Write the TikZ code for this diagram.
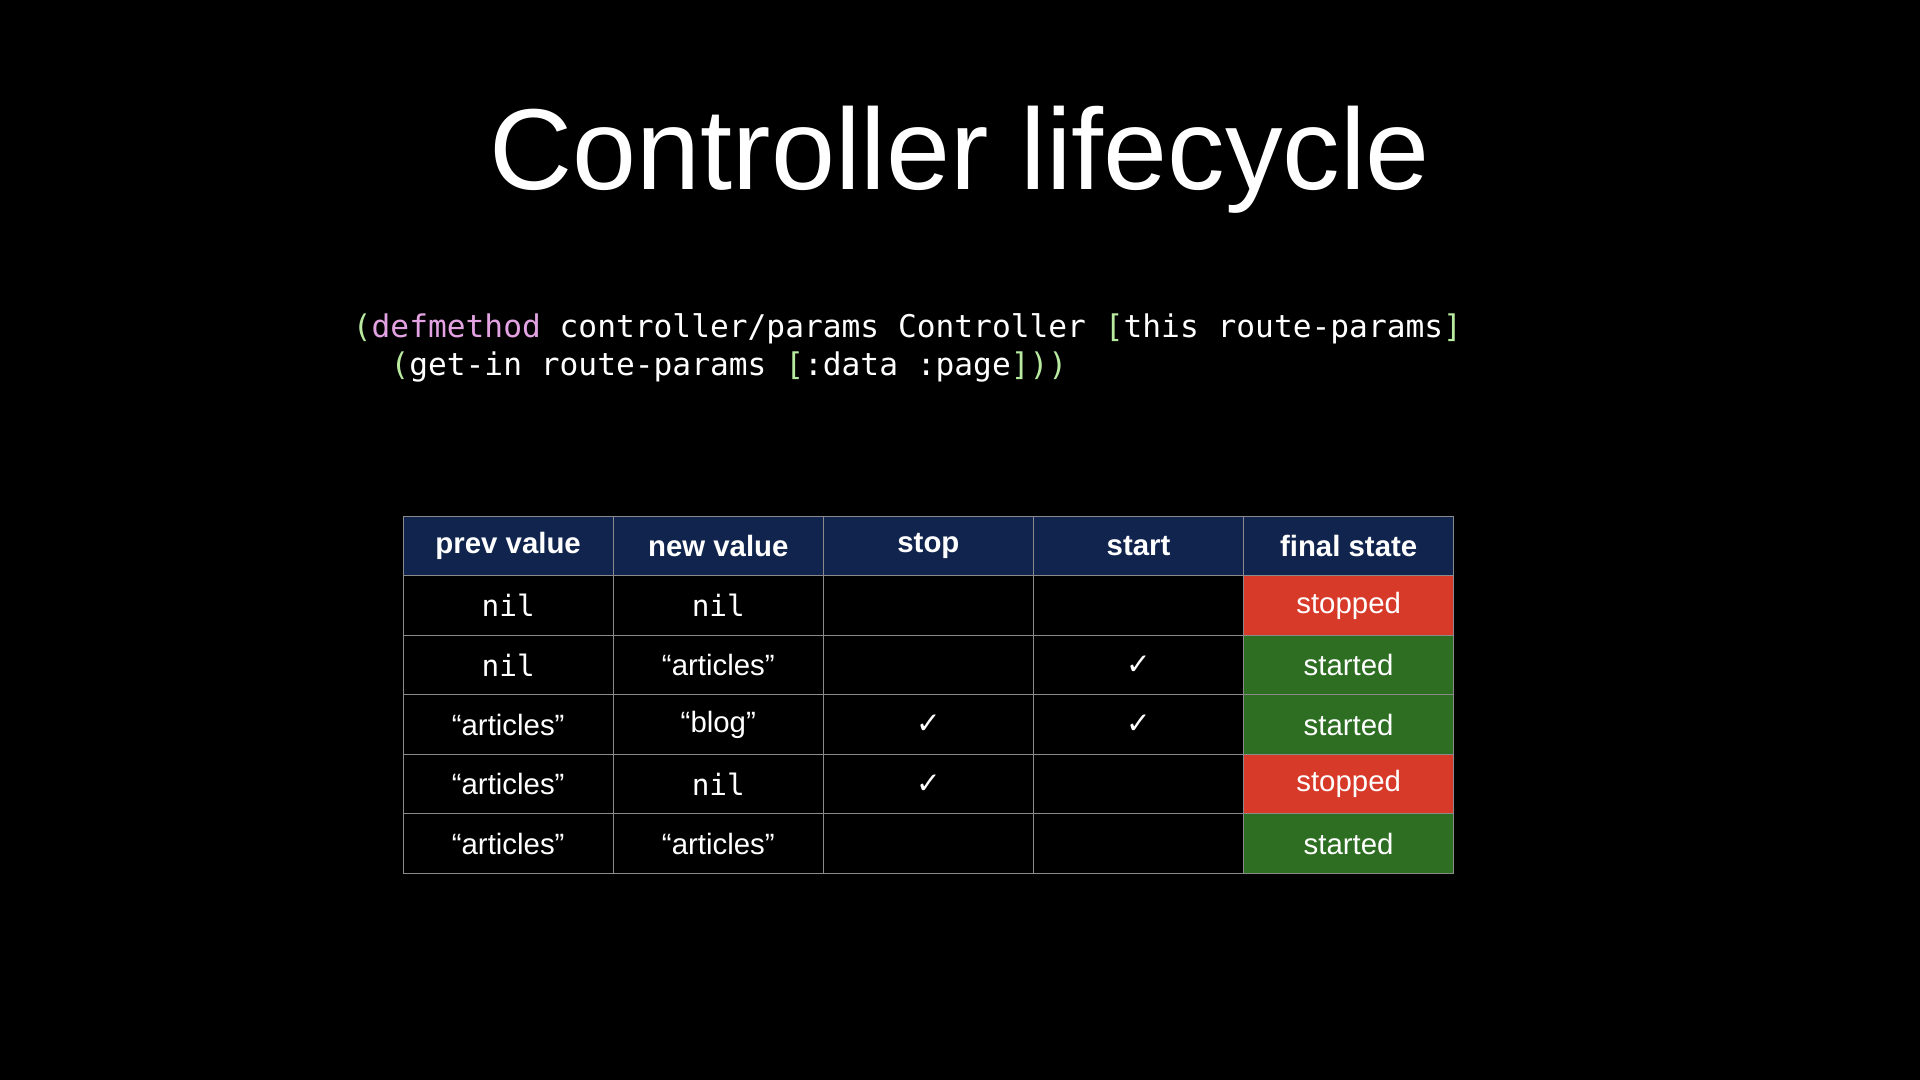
\documentclass[tikz,border=0pt]{standalone}
\usepackage{fontspec}
\setmainfont{Liberation Sans}
\newfontfamily\codefont{DejaVu Sans Mono}
\newfontfamily\symfont{DejaVu Sans}
\definecolor{hdr}{HTML}{10244D}
\definecolor{cred}{HTML}{D83A2A}
\definecolor{cgreen}{HTML}{2E6E22}
\definecolor{cgrid}{HTML}{8A8A8A}
\definecolor{cpink}{HTML}{E3A3E3}
\definecolor{cgr}{HTML}{B8EBA0}
\begin{document}
\begin{tikzpicture}[x=1pt,y=-1pt,
  cell/.style={minimum width=171.6pt,minimum height=48.6pt,draw=cgrid,line width=0.8pt,inner sep=0pt,text=white,font=\fontsize{24}{28}\selectfont},
  hcell/.style={cell,fill=hdr,font=\fontsize{24}{28}\selectfont\bfseries},
  code/.style={anchor=base west,inner sep=0pt,text=white,font=\codefont\fontsize{25.5}{30}\selectfont}]
\fill[black] (0,0) rectangle (1568,882);
\useasboundingbox (0,0) rectangle (1568,882);
\node[text=white,font=\fontsize{94}{100}\selectfont,anchor=base,inner sep=0pt] (title) at (784,155) {Controller lifecycle};
\node[code] (c1) at (288,276) {\textcolor{cgr}{(}\textcolor{cpink}{defmethod} controller/params Controller \textcolor{cgr}{[}this route-params\textcolor{cgr}{]}};
\node[code] (c2) at (288,307) {\ \ \textcolor{cgr}{(}get-in route-params \textcolor{cgr}{[}:data :page\textcolor{cgr}{]))}};
\def\nil{{\codefont nil}}
\def\chk{{\symfont ✓}}
\foreach \r/\a/\b/\c/\d/\e/\f in {
  1/\nil/\nil/{}/{}/stopped/cred,
  2/\nil/“articles”/{}/\chk/started/cgreen,
  3/“articles”/“blog”/\chk/\chk/started/cgreen,
  4/“articles”/\nil/\chk/{}/stopped/cred,
  5/“articles”/“articles”/{}/{}/started/cgreen}{
  \pgfmathsetmacro\yy{446+48.6*\r}
  \node[cell] (r\r c1) at (415,\yy) {\a};
  \node[cell] (r\r c2) at (586.6,\yy) {\b};
  \node[cell] (r\r c3) at (758.2,\yy) {\c};
  \node[cell] (r\r c4) at (929.8,\yy) {\d};
  \node[cell,fill=\f] (r\r c5) at (1101.4,\yy) {\e};
}
\node[hcell] (h1) at (415,446) {prev value};
\node[hcell] (h2) at (586.6,446) {new value};
\node[hcell] (h3) at (758.2,446) {stop};
\node[hcell] (h4) at (929.8,446) {start};
\node[hcell] (h5) at (1101.4,446) {final state};
\end{tikzpicture}
\end{document}
